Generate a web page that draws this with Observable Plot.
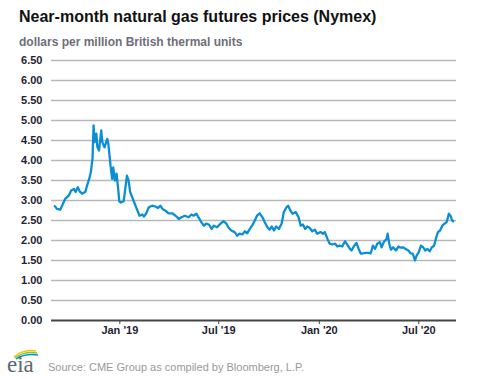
<!DOCTYPE html>
<html>
<head>
<meta charset="utf-8">
<script src="https://cdn.jsdelivr.net/npm/d3@7"></script>
<script src="https://cdn.jsdelivr.net/npm/@observablehq/plot@0.6"></script>
<style>
  html, body { margin: 0; padding: 0; background: #fff; }
  #wrap { position: relative; width: 477px; height: 379px; overflow: hidden; font-family: Arial, "Liberation Sans", sans-serif; }
  #chart { position: absolute; left: 0; top: 0; }
  .title { position: absolute; left: 19px; top: 9px; font-size: 16px; line-height: 16px; font-weight: bold; color: #111; white-space: nowrap; }
  .subtitle { position: absolute; left: 19px; top: 36px; font-size: 12px; line-height: 12px; font-weight: bold; color: #6e6e7a; white-space: nowrap; }
  .source { position: absolute; left: 48px; top: 362px; font-size: 11px; line-height: 11px; color: #999; white-space: nowrap; }
  .logo { position: absolute; left: 6px; top: 347px; }
</style>
</head>
<body>
<div id="wrap">
  <div id="chart"></div>
  <div class="title">Near-month natural gas futures prices (Nymex)</div>
  <div class="subtitle">dollars per million British thermal units</div>
  <svg class="logo" width="36" height="30" viewBox="0 0 36 30">
    <path d="M8 10 Q17 2 30 4" fill="none" stroke="#f5c400" stroke-width="1.5"/>
    <path d="M9 11 Q18 4 31 6" fill="none" stroke="#8cc63f" stroke-width="1.5"/>
    <path d="M10 12 Q19 6 32 8" fill="none" stroke="#0096d7" stroke-width="1.5"/>
    <text x="1" y="25" font-family="'Liberation Serif','DejaVu Serif',serif" font-size="23" fill="#5b6770">eia</text>
  </svg>
  <div class="source">Source: CME Group as compiled by Bloomberg, L.P.</div>
</div>
<script>
const dates = [
  "2018-09-04","2018-09-08","2018-09-14","2018-09-19","2018-09-23","2018-09-30",
  "2018-10-04","2018-10-09","2018-10-12","2018-10-16","2018-10-20","2018-10-24","2018-10-30",
  "2018-11-02","2018-11-06","2018-11-09","2018-11-12","2018-11-14","2018-11-16","2018-11-19",
  "2018-11-21","2018-11-24","2018-11-28","2018-11-30","2018-12-04","2018-12-09","2018-12-11",
  "2018-12-15","2018-12-18","2018-12-20","2018-12-23","2018-12-26","2018-12-29","2018-12-31",
  "2019-01-03","2019-01-08","2019-01-11","2019-01-14","2019-01-17","2019-01-20","2019-01-26",
  "2019-02-01","2019-02-06","2019-02-11","2019-02-14","2019-02-18","2019-02-23",
  "2019-03-01","2019-03-07","2019-03-12","2019-03-16","2019-03-20","2019-03-27","2019-03-31",
  "2019-04-07","2019-04-13","2019-04-19","2019-04-24","2019-04-30",
  "2019-05-07","2019-05-12","2019-05-16","2019-05-21","2019-05-25","2019-05-30",
  "2019-06-04","2019-06-08","2019-06-13","2019-06-18","2019-06-22","2019-06-28",
  "2019-07-04","2019-07-10","2019-07-15","2019-07-19","2019-07-24","2019-07-30",
  "2019-08-04","2019-08-08","2019-08-13","2019-08-18","2019-08-22","2019-08-26","2019-08-31",
  "2019-09-05","2019-09-09","2019-09-14","2019-09-19","2019-09-23","2019-09-28",
  "2019-10-02","2019-10-06","2019-10-10","2019-10-14","2019-10-19","2019-10-24","2019-10-28",
  "2019-11-02","2019-11-05","2019-11-09","2019-11-13","2019-11-19","2019-11-24","2019-11-28",
  "2019-12-02","2019-12-06","2019-12-10","2019-12-14","2019-12-19","2019-12-24","2019-12-28",
  "2020-01-03","2020-01-08","2020-01-11","2020-01-16","2020-01-20","2020-01-25","2020-01-30",
  "2020-02-03","2020-02-07","2020-02-12","2020-02-17","2020-02-21","2020-02-26","2020-02-29",
  "2020-03-04","2020-03-09","2020-03-13","2020-03-17","2020-03-21","2020-03-26","2020-03-31",
  "2020-04-04","2020-04-08","2020-04-12","2020-04-16","2020-04-21","2020-04-24","2020-04-28",
  "2020-05-03","2020-05-05","2020-05-08","2020-05-11","2020-05-15","2020-05-20","2020-05-25","2020-05-29",
  "2020-06-02","2020-06-07","2020-06-12","2020-06-16","2020-06-20","2020-06-24","2020-06-27",
  "2020-07-01","2020-07-05","2020-07-09","2020-07-13","2020-07-17","2020-07-21","2020-07-25","2020-07-29",
  "2020-08-02","2020-08-05","2020-08-09","2020-08-13","2020-08-17","2020-08-21","2020-08-25","2020-08-28",
  "2020-08-31","2020-09-02"
];
const prices = [
  2.86,2.79,2.77,2.92,3.04,3.13,
  3.25,3.29,3.21,3.33,3.22,3.17,3.22,
  3.37,3.54,3.71,4.04,4.88,4.46,4.67,
  4.33,4.25,4.75,4.46,4.33,4.54,4.42,
  3.87,3.54,3.83,3.50,3.67,3.29,2.98,
  2.95,2.98,3.29,3.62,3.50,3.21,3.00,
  2.79,2.62,2.65,2.60,2.67,2.83,
  2.87,2.85,2.81,2.87,2.79,2.73,2.68,
  2.68,2.62,2.54,2.58,2.62,
  2.58,2.65,2.62,2.67,2.58,2.46,
  2.37,2.42,2.40,2.29,2.37,2.33,
  2.42,2.48,2.42,2.32,2.25,2.21,
  2.12,2.17,2.15,2.23,2.18,2.27,2.37,
  2.50,2.62,2.68,2.58,2.46,2.33,
  2.27,2.35,2.25,2.35,2.29,2.42,2.71,
  2.83,2.87,2.75,2.67,2.71,2.58,2.37,
  2.40,2.29,2.35,2.32,2.23,2.27,2.17,
  2.21,2.17,2.21,2.04,1.92,1.90,1.92,
  1.85,1.87,1.85,1.98,1.90,1.79,1.75,
  1.85,1.94,1.79,1.67,1.68,1.69,1.69,
  1.68,1.87,1.79,1.92,1.96,1.83,1.96,
  2.04,2.17,1.92,1.77,1.83,1.75,1.85,1.82,
  1.83,1.79,1.75,1.68,1.67,1.50,1.62,
  1.71,1.87,1.83,1.75,1.79,1.73,1.83,1.87,
  2.08,2.21,2.25,2.37,2.42,2.46,2.67,2.62,
  2.50,2.48
];
const yTicks = [0,0.5,1,1.5,2,2.5,3,3.5,4,4.5,5,5.5,6,6.5];
const xTickDates = ["2019-01-01","2019-07-01","2020-01-01","2020-07-01"];
const xTickLabels = ["Jan '19","Jul '19","Jan '20","Jul '20"];
const xDomain = ["2018-08-29","2020-09-08"];

const data = dates.map((d, i) => ({date: new Date(d), price: prices[i]}));
const xTicks = xTickDates.map(d => new Date(d));

const chart = Plot.plot({
  width: 477,
  height: 379,
  marginTop: 60,
  marginBottom: 59,
  marginLeft: 51,
  marginRight: 21,
  style: {fontFamily: "Arial, 'Liberation Sans', sans-serif", background: "transparent"},
  x: {type: "utc", domain: xDomain.map(d => new Date(d)), label: null},
  y: {domain: [0, 6.5], label: null},
  marks: [
    Plot.ruleY(yTicks.filter(d => d > 0), {stroke: "#b8b8b8", strokeWidth: 1.5}),
    Plot.ruleY([0], {stroke: "#444", strokeWidth: 2}),
    Plot.axisY({ticks: yTicks, tickSize: 0, tickPadding: 9, tickFormat: d => d.toFixed(2),
      fontSize: 11, fontWeight: "bold", fill: "#1f2233", label: null}),
    Plot.axisX({ticks: xTicks, tickSize: 4, tickPadding: 2, stroke: "#444",
      tickFormat: d => xTickLabels[xTicks.findIndex(t => +t === +d)],
      fontSize: 11, fontWeight: "bold", fill: "#1f2233", label: null}),
    Plot.lineY(data, {x: "date", y: "price", stroke: "#0a8fd6", strokeWidth: 2.3, strokeLinejoin: "round"})
  ]
});
document.getElementById("chart").appendChild(chart);
</script>
</body>
</html>
